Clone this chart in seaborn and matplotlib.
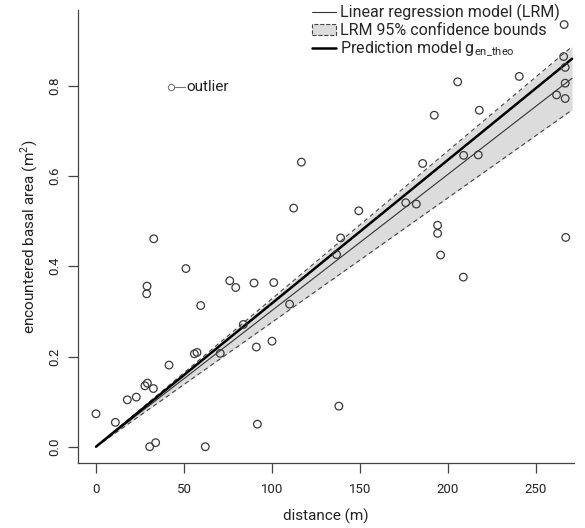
import numpy as np
import pandas as pd
import seaborn as sns
import matplotlib
matplotlib.use("Agg")
import matplotlib.pyplot as plt
from matplotlib.lines import Line2D
from matplotlib.patches import Patch

# points
distance = [0, 11, 17.8, 22.9, 27.8, 29.2, 32.6, 30.5, 33.9, 29, 28.8, 32.8, 41.5,
            51.1, 55.9, 57.4, 59.5, 62.1, 70.6, 76, 79.4, 83.7, 89.8, 101, 110,
            91.1, 100, 91.7, 138, 139, 136.7, 116.7, 112.3, 149.3, 176, 182,
            266, 265.7, 266.6, 266.6, 261.7, 266.6, 240.5, 205.5, 217.8, 192.2,
            208.9, 217.2, 185.6, 194.1, 194.1, 195.8, 208.7, 266.9]
basal_area = [0.073, 0.054, 0.104, 0.110, 0.135, 0.141, 0.129, 0.0, 0.009, 0.356,
              0.339, 0.461, 0.181, 0.395, 0.206, 0.209, 0.313, 0.0, 0.207, 0.368,
              0.353, 0.271, 0.363, 0.364, 0.316, 0.221, 0.234, 0.050, 0.090, 0.463,
              0.426, 0.631, 0.529, 0.523, 0.541, 0.538, 0.936, 0.865, 0.841, 0.806,
              0.780, 0.772, 0.821, 0.809, 0.746, 0.735, 0.646, 0.647, 0.628, 0.491,
              0.473, 0.425, 0.376, 0.464]

# model slopes (lines through origin)
lrm_slope = 0.00302
lrm_lo, lrm_hi = 0.00276, 0.00328
pred_slope = 0.00318
line_x = [0, 270.5]

# outlier marker annotation
outlier_xy = (42.6, 0.798)

xticks = [0, 50, 100, 150, 200, 250]
yticks = [0.0, 0.2, 0.4, 0.6, 0.8]

sns.set_style("ticks")
plt.rcParams['font.family'] = ['Roboto', 'DejaVu Sans']
plt.rcParams['mathtext.fontset'] = 'custom'
plt.rcParams['mathtext.rm'] = 'Roboto'

grey = '#444444'
f = plt.figure(figsize=(5.85, 5.28), dpi=100)
ax = f.add_axes([0.1325, 0.1231, 0.8487, 0.858])

lx = np.array(line_x)
ax.fill_between(lx, lrm_lo * lx, lrm_hi * lx, color='#dcdcdc', lw=0, zorder=1)
lines = pd.DataFrame({'x': np.tile(lx, 4),
                      'y': np.concatenate([lrm_slope * lx, lrm_lo * lx, lrm_hi * lx, pred_slope * lx]),
                      'model': np.repeat(['lrm', 'lo', 'hi', 'pred'], 2)})
sns.lineplot(data=lines.query("model=='lrm'"), x='x', y='y', color='#333333', lw=0.8, ax=ax, zorder=3)
sns.lineplot(data=lines.query("model=='lo'"), x='x', y='y', color='#444444', lw=0.8, ls=(0, (4, 3)), ax=ax, zorder=3)
sns.lineplot(data=lines.query("model=='hi'"), x='x', y='y', color='#444444', lw=0.8, ls=(0, (4, 3)), ax=ax, zorder=3)
sns.lineplot(data=lines.query("model=='pred'"), x='x', y='y', color='black', lw=1.8, ax=ax, zorder=4)

df = pd.DataFrame({'distance': distance, 'basal': basal_area})
sns.scatterplot(data=df, x='distance', y='basal', facecolor='none', edgecolor='#3a3a3a',
                linewidth=0.9, s=30, ax=ax, zorder=5)

# outlier label
ax.plot([outlier_xy[0]], [outlier_xy[1]], 'o', mfc='none', mec='#777777', ms=4.5, mew=0.8)
ax.plot([outlier_xy[0] + 1.6, outlier_xy[0] + 8], [outlier_xy[1]] * 2, color='#777777', lw=0.8)
ax.text(outlier_xy[0] + 8.5, outlier_xy[1], 'outlier', fontsize=11, va='center', ha='left', color='#222222')

ax.set_xlim(-10.5, 271.6)
ax.set_ylim(-0.0361, 0.9683)
ax.set_xticks(xticks)
ax.set_yticks(yticks)
ax.set_xticklabels([str(t) for t in xticks])
ax.set_yticklabels(['%.1f' % t for t in yticks], rotation=90, va='center')
ax.tick_params(length=7.5, width=0.9, color=grey, labelsize=9.5, labelcolor='#222222')
ax.tick_params(axis='x', pad=7)
ax.tick_params(axis='y', pad=4)
sns.despine(ax=ax)
for s in ['left', 'bottom']:
    ax.spines[s].set_color(grey)
    ax.spines[s].set_linewidth(0.9)

ax.set_xlabel('distance (m)', fontsize=11, color='#222222', labelpad=9)
ax.set_ylabel('encountered basal area (m$^2$)', fontsize=11, color='#222222', labelpad=6)

handles = [Line2D([], [], color='#333333', lw=0.8),
           Patch(facecolor='#dcdcdc', edgecolor='#444444', ls='--', lw=0.8),
           Line2D([], [], color='black', lw=1.8)]
labels = ['Linear regression model (LRM)', 'LRM 95% confidence bounds',
          r'Prediction model g$_{\mathregular{en\_theo}}$']
f.legend(handles, labels, loc='upper left', bbox_to_anchor=(312 / 585, 1 - 4 / 528),
         frameon=False, fontsize=11.5, handlelength=1.5, handleheight=0.6,
         handletextpad=0.25, labelspacing=0.12, borderpad=0, borderaxespad=0)

f.savefig('out.png', dpi=100)
